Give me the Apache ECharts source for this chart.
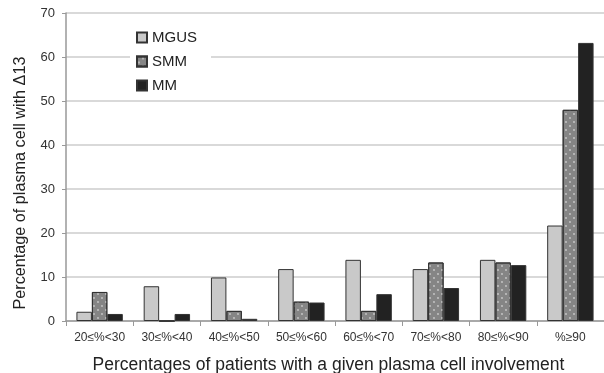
<!DOCTYPE html>
<html><head><meta charset="utf-8">
<script src="https://cdn.jsdelivr.net/npm/echarts@6/dist/echarts.min.js"></script>
<style>html,body{margin:0;padding:0;background:#fff}#c{width:604px;height:373px}</style>
</head><body><div id="c"></div>
<script>
const categories = ['20≤%<30','30≤%<40','40≤%<50','50≤%<60','60≤%<70','70≤%<80','80≤%<90','%≥90'];
const mgus = [2.1, 7.9, 9.9, 11.8, 13.9, 11.8, 13.9, 21.7];
const smm  = [6.6, 0, 2.3, 4.4, 2.3, 13.3, 13.3, 48.0];
const mm   = [1.6, 1.6, 0.5, 4.2, 6.1, 7.5, 12.7, 63.2];
const yTicks = [0, 10, 20, 30, 40, 50, 60, 70];

const font = '"Liberation Sans", Arial, sans-serif';
const chart = echarts.init(document.getElementById('c'));
const border = {borderColor:'#333', borderWidth:1};
chart.setOption({
  animation:false,
  grid:{left:66, right:0, top:13, bottom:52, containLabel:false, outerBoundsMode:'none'},
  legend:{
    orient:'vertical', left:130, top:28, itemWidth:10, itemHeight:10, itemGap:9,
    backgroundColor:'#fff', padding:[2,14,2,6],
    textStyle:{fontFamily:font, fontSize:15, color:'#222'},
    data:[{name:'MGUS',icon:'rect'},{name:'SMM',icon:'rect'},{name:'MM',icon:'rect'}]
  },
  graphic:[{
    type:'text', x:21, y:183, rotation:Math.PI/2,
    style:{text:'Percentage of plasma cell with \u039413', fontFamily:font, fontSize:16.2, fill:'#222',
      align:'center', verticalAlign:'middle'}
  }],
  xAxis:{
    type:'category', data:categories,
    axisLine:{lineStyle:{color:'#999', width:1.5}},
    axisTick:{show:true, length:5, lineStyle:{color:'#999'}},
    axisLabel:{fontFamily:font, fontSize:12, color:'#333', margin:11},
    name:'Percentages of patients with a given plasma cell involvement',
    nameLocation:'middle', nameGap:35,
    nameTextStyle:{fontFamily:font, fontSize:17.5, color:'#222', padding:[0,13,0,0]}
  },
  yAxis:{
    type:'value', min:0, max:70, interval:10,
    axisLine:{show:true, lineStyle:{color:'#999', width:1.5}},
    axisTick:{show:true, length:4, lineStyle:{color:'#999'}},
    splitLine:{lineStyle:{color:'#ccc', width:1.5}},
    axisLabel:{fontFamily:font, fontSize:13, color:'#333', margin:11,
      formatter:v=>yTicks.includes(v)?String(v):''}
  },
  series:[
    {name:'MGUS', type:'bar', data:mgus, barGap:'0%', barCategoryGap:'31%',
      itemStyle:Object.assign({color:'#c9c9c9'}, border)},
    {name:'SMM', type:'bar', data:smm,
      itemStyle:Object.assign({color:'#858585',
        decal:{symbol:'circle', symbolSize:0.45, color:'rgba(225,225,225,0.75)', dashArrayX:[[4,4],[0,4,4,0]], dashArrayY:[4,0], rotation:0}
      }, border)},
    {name:'MM', type:'bar', data:mm,
      itemStyle:Object.assign({color:'#222'}, border)}
  ]
});
</script></body></html>
